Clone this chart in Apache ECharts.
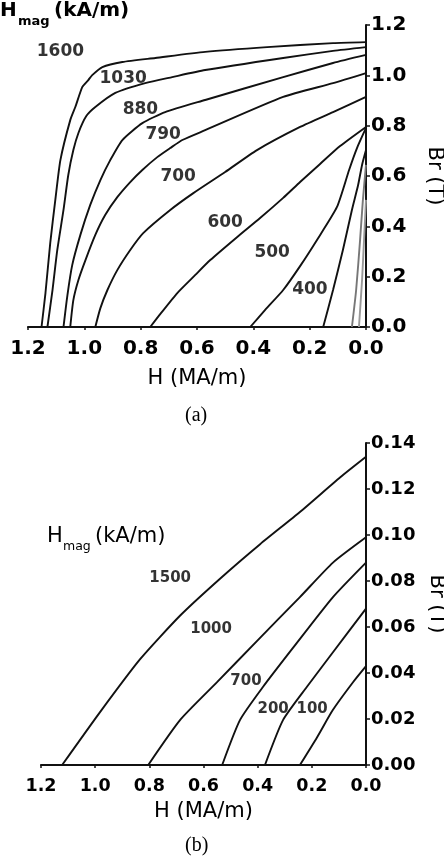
<!DOCTYPE html>
<html>
<head>
<meta charset="UTF-8">
<script src="https://cdn.jsdelivr.net/npm/echarts@6/dist/echarts.min.js"></script>
<style>
    html, body { margin: 0; padding: 0; background: #fff; }
    #chart { width: 444px; height: 858px; }
</style>
</head>
<body>
<div id="chart"></div>
<script>
// (a) demagnetisation curves, [H (MA/m), Br (T)], one array per Hmag
const a1600 = [[1.152,0],[1.138,0.135],[1.121,0.334],[1.103,0.505],[1.085,0.663],[1.050,0.822],[1.032,0.874],[1.007,0.954],[0.986,0.981],[0.972,1.001],[0.936,1.033],[0.865,1.053],[0.748,1.069],[0.571,1.093],[0.351,1.112],[0.117,1.128],[0,1.132]];
const a1030 = [[1.131,0],[1.113,0.147],[1.096,0.306],[1.074,0.465],[1.057,0.604],[1.039,0.703],[1.021,0.771],[0.993,0.838],[0.961,0.874],[0.890,0.930],[0.784,0.969],[0.688,0.993],[0.571,1.021],[0.294,1.069],[0.117,1.097],[0,1.112]];
const a880 = [[1.074,0],[1.060,0.127],[1.043,0.246],[1.014,0.366],[0.979,0.485],[0.943,0.584],[0.908,0.663],[0.865,0.743],[0.794,0.810],[0.713,0.854],[0.571,0.902],[0.294,0.993],[0.117,1.049],[0,1.081]];
const a790 = [[1.050,0],[1.039,0.107],[1.021,0.187],[0.996,0.266],[0.961,0.366],[0.926,0.445],[0.883,0.516],[0.837,0.576],[0.794,0.624],[0.741,0.675],[0.695,0.711],[0.652,0.743],[0.571,0.782],[0.294,0.914],[0.117,0.969],[0,1.009]];
const a700 = [[0.961,0],[0.943,0.075],[0.918,0.147],[0.883,0.226],[0.837,0.306],[0.791,0.373],[0.695,0.465],[0.613,0.532],[0.500,0.616],[0.387,0.703],[0.234,0.795],[0.117,0.854],[0,0.914]];
const a600 = [[0.766,0],[0.730,0.052],[0.670,0.135],[0.606,0.207],[0.553,0.266],[0.457,0.358],[0.376,0.433],[0.294,0.513],[0.234,0.576],[0.163,0.648],[0.092,0.719],[0,0.795]];
const a500 = [[0.411,0],[0.358,0.068],[0.294,0.147],[0.234,0.242],[0.174,0.346],[0.103,0.477],[0.060,0.624],[0.032,0.711],[0,0.791]];
const a400 = [[0.152,0],[0.117,0.147],[0.082,0.306],[0.050,0.465],[0.028,0.564],[0.014,0.644],[0,0.703]];
// faint unlabelled curves hugging the Br axis
const aLow1 = [[0.050,0],[0.035,0.147],[0.021,0.346],[0.011,0.505],[0,0.644]];
const aLow2 = [[0.025,0],[0.014,0.187],[0.007,0.346],[0,0.505]];

// curve labels for (a): [H, Br, text]
const aLabels = [[1.085,1.093,'1600'],[0.862,0.989,'1030'],[0.801,0.862,'880'],[0.720,0.763,'790'],[0.667,0.596,'700'],[0.500,0.413,'600'],[0.333,0.294,'500'],[0.199,0.147,'400']];

// (b)
const b1500 = [[1.122,0],[0.982,0.023],[0.834,0.046],[0.686,0.065],[0.539,0.081],[0.391,0.096],[0.244,0.110],[0.096,0.125],[0,0.134]];
const b1000 = [[0.804,0],[0.686,0.0196],[0.550,0.036],[0.402,0.054],[0.244,0.073],[0.122,0.088],[0,0.099]];
const b700 = [[0.531,0],[0.465,0.0196],[0.380,0.034],[0.269,0.051],[0.122,0.073],[0,0.088]];
const b200 = [[0.373,0],[0.306,0.0196],[0.218,0.034],[0.122,0.049],[0,0.068]];
const b100 = [[0.244,0],[0.181,0.012],[0.122,0.024],[0.048,0.036],[0,0.043]];
const bLabels = [[0.723,0.0813,'1500'],[0.572,0.0591,'1000'],[0.443,0.0365,'700'],[0.343,0.0243,'200'],[0.199,0.0243,'100']];

const SANS = 'DejaVu Sans';

function curve(data, idx, color) {
    return {
        type: 'line', xAxisIndex: idx, yAxisIndex: idx, data: data,
        showSymbol: false, smooth: 0.2, silent: true,
        lineStyle: { color: color || '#111', width: 1.9 }
    };
}
function labels(data, idx, size) {
    return {
        type: 'scatter', xAxisIndex: idx, yAxisIndex: idx, data: data,
        symbolSize: 0, silent: true, clip: false,
        itemStyle: { color: '#000' },
        label: {
            show: true, position: 'inside', formatter: p => p.data[2],
            color: '#000', textBorderWidth: 0, fontFamily: SANS, fontWeight: 'bold', fontSize: size
        }
    };
}
function xAxis(idx, size, gap, margin) {
    return {
        gridIndex: idx, type: 'value', min: 0, max: 1.2, interval: 0.2, inverse: true,
        name: 'H (MA/m)', nameLocation: 'middle', nameGap: gap,
        nameTextStyle: { fontFamily: SANS, fontSize: 21, color: '#000' },
        axisLine: { lineStyle: { color: '#111', width: 2.2 } },
        axisTick: { show: true, length: 3, lineStyle: { color: '#111', width: 1.5 } },
        axisLabel: { margin: margin, color: '#000', fontFamily: SANS, fontWeight: 'bold', fontSize: size,
            formatter: v => v.toFixed(1) },
        splitLine: { show: false }
    };
}
function yAxis(idx, max, step, digits, size) {
    return {
        gridIndex: idx, type: 'value', position: 'right', min: 0, max: max, interval: step,
        name: 'Br (T)', nameLocation: 'middle', nameRotate: -90, nameGap: 58,
        nameTextStyle: { fontFamily: SANS, fontSize: 21, color: '#000' },
        axisLine: { show: true, lineStyle: { color: '#111', width: 2 } },
        axisTick: { show: true, length: 4, lineStyle: { color: '#111', width: 1.5 } },
        axisLabel: { margin: 5, color: '#000', fontFamily: SANS, fontWeight: 'bold', fontSize: size,
            formatter: v => v.toFixed(digits) },
        splitLine: { show: false }
    };
}

const chart = echarts.init(document.getElementById('chart'));
chart.setOption({
    animation: false,
    backgroundColor: '#fff',
    grid: [
        { left: 28, right: 78, top: 25, height: 302, outerBoundsMode: 'none' },
        { left: 41, right: 78, top: 443, height: 322, outerBoundsMode: 'none' }
    ],
    xAxis: [xAxis(0, 20, 41, 12), xAxis(1, 17.5, 36, 12)],
    yAxis: [yAxis(0, 1.2, 0.2, 1, 20), yAxis(1, 0.14, 0.02, 2, 18)],
    series: [
        curve(a1600, 0), curve(a1030, 0), curve(a880, 0), curve(a790, 0),
        curve(a700, 0), curve(a600, 0), curve(a500, 0), curve(a400, 0),
        curve(aLow1, 0, '#777'), curve(aLow2, 0, '#999'),
        labels(aLabels, 0, 17),
        curve(b1500, 1), curve(b1000, 1), curve(b700, 1), curve(b200, 1), curve(b100, 1),
        labels(bLabels, 1, 15)
    ],
    graphic: [
        { type: 'text', left: 0, top: 1, style: { text: 'H', font: 'bold 20px "DejaVu Sans"', fill: '#000' } },
        { type: 'text', left: 18, top: 15, style: { text: 'mag', font: 'bold 13px "DejaVu Sans"', fill: '#000' } },
        { type: 'text', left: 54, top: 1, style: { text: '(kA/m)', font: 'bold 20px "DejaVu Sans"', fill: '#000' } },
        { type: 'text', left: 47, top: 526, style: { text: 'H', font: '21px "DejaVu Sans"', fill: '#000' } },
        { type: 'text', left: 63, top: 540, style: { text: 'mag', font: '12.5px "DejaVu Sans"', fill: '#000' } },
        { type: 'text', left: 95, top: 526, style: { text: '(kA/m)', font: '21px "DejaVu Sans"', fill: '#000' } },
        { type: 'text', left: 185, top: 406, style: { text: '(a)', font: '20px "Liberation Serif"', fill: '#000' } },
        { type: 'text', left: 185, top: 836, style: { text: '(b)', font: '20px "Liberation Serif"', fill: '#000' } }
    ]
});
</script>
</body>
</html>
